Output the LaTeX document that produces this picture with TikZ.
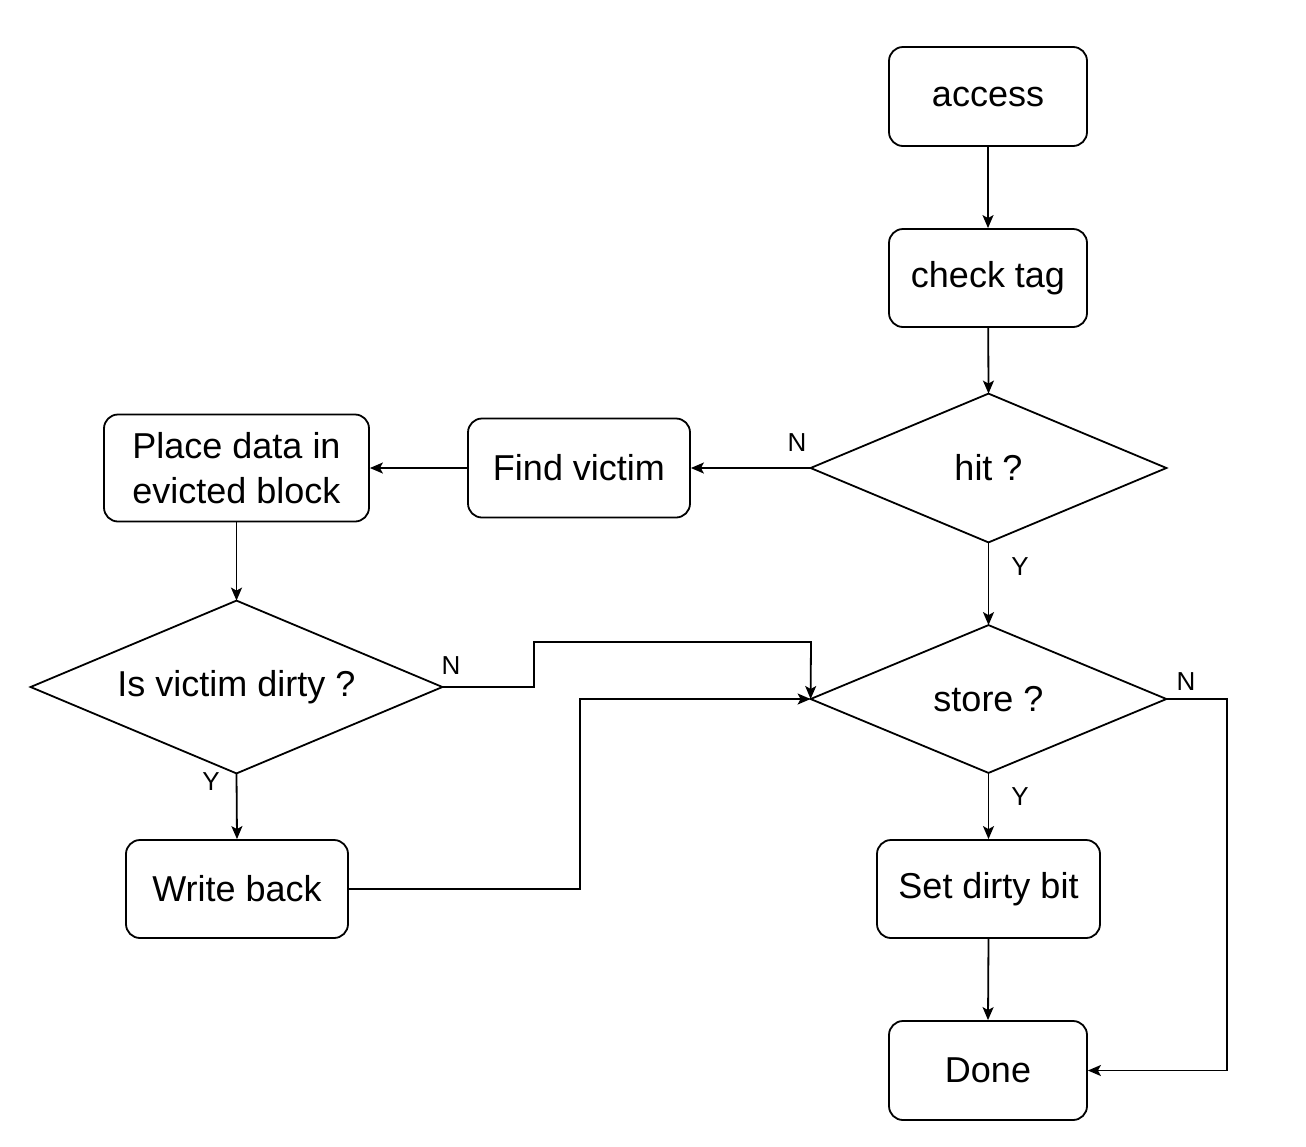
\documentclass[tikz,border=0pt]{standalone}
\usepackage{fontspec}
\setmainfont{Liberation Sans}
\usetikzlibrary{arrows.meta}
\begin{document}
\begin{tikzpicture}[x=0.5pt,y=-0.5pt,
  box/.style={draw, rounded corners=7pt, line width=0.9pt, align=center, inner sep=0pt,
    font=\fontsize{18}{22.5}\selectfont},
  dia/.style={draw=none, inner sep=0pt, font=\fontsize{18}{22.5}\selectfont},
  lbl/.style={font=\fontsize{13}{16}\selectfont, inner sep=0pt},
  arr/.style={line width=0.9pt, -{Stealth[length=6.5pt,width=5.5pt,inset=1.5pt]}},
  ln/.style={line width=0.9pt}]
\useasboundingbox[fill=white] (0,0) rectangle (1306,1146);

\node[box, minimum width=99pt, minimum height=49.5pt] (access) at (988,96.5) {access};
\node[box, minimum width=99pt, minimum height=49pt] (check) at (988,278) {check tag};
\node[dia, minimum width=177.5pt, minimum height=74pt] (hit) at (988.5,468) {hit ?};
\node[box, minimum width=111pt, minimum height=49.5pt] (find) at (579,468) {Find victim};
\node[box, minimum width=132.5pt, minimum height=53.5pt] (place) at (236.5,468) {Place data in\\evicted block};
\node[dia, minimum width=205.5pt, minimum height=86pt] (ivd) at (236.5,687) {Is victim dirty ?};
\node[box, minimum width=111pt, minimum height=49pt] (wb) at (237,889) {Write back};
\node[dia, minimum width=177.5pt, minimum height=73.5pt] (store) at (988.5,699) {store ?};
\node[box, minimum width=111.5pt, minimum height=49pt] (sdb) at (988.5,889) {Set dirty bit};
\node[box, minimum width=99pt, minimum height=49.5pt] (done) at (988,1070.5) {Done};

\foreach \d in {hit,ivd,store}
  \draw[ln] (\d.north) -- (\d.east) -- (\d.south) -- (\d.west) -- cycle;

\draw[arr] (access) -- (check);
\draw[arr] (check) -- (hit.north);
\draw[arr] (hit.west) -- (find.east);
\draw[arr] (hit.south) -- (store.north);
\draw[arr] (find.west) -- (place.east);
\draw[arr] (place.south) -- (ivd.north);
\draw[arr] (ivd.south) -- (wb.north);
\draw[arr] (ivd.east) -- (534,687) |- (811,642) -- (store.west);
\draw[arr] (wb.east) -- (580,889) |- (store.west);
\draw[arr] (store.east) -- (1227,699) |- (done.east);
\draw[arr] (store.south) -- (sdb.north);
\draw[arr] (sdb.south) -- (done.north);

\node[lbl] (l1) at (797,443) {N};
\node[lbl] (l2) at (1020,567) {Y};
\node[lbl] (l3) at (451,666) {N};
\node[lbl] (l4) at (211,782) {Y};
\node[lbl] (l5) at (1186,682) {N};
\node[lbl] (l6) at (1020,797) {Y};
\end{tikzpicture}
\end{document}
